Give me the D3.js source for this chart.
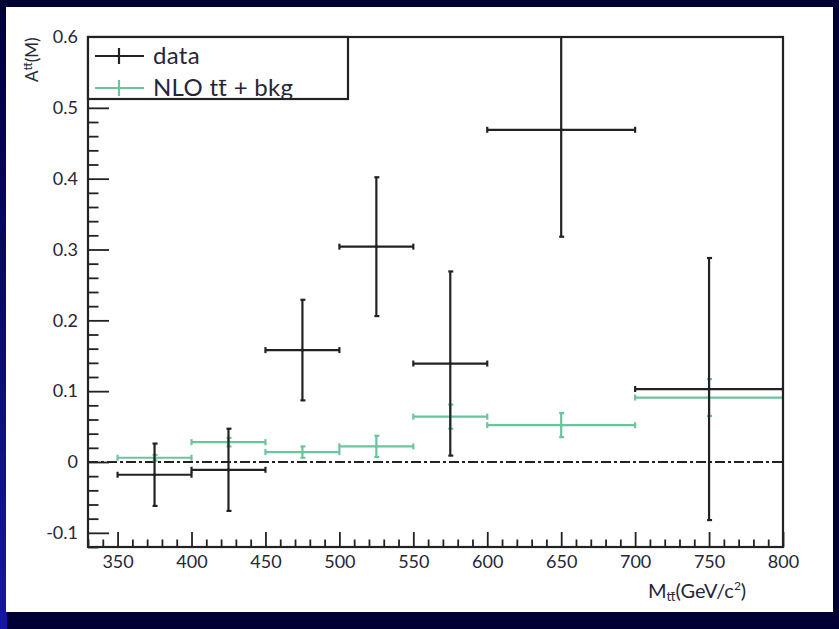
<!DOCTYPE html>
<html>
<head>
<meta charset="utf-8">
<script src="https://cdn.jsdelivr.net/npm/d3@7"></script>
<style>
  html, body { margin: 0; padding: 0; background: #000035; }
  svg { display: block; }
  text { font-family: Lato, "Open Sans", sans-serif; fill: #262636; }
</style>
</head>
<body>
<script>
// Bin edges in M_tt (GeV/c^2)
const binLow  = [350, 400, 450, 500, 550, 600, 700];
const binHigh = [400, 450, 500, 550, 600, 700, 800];

// Measured asymmetry per bin and its uncertainty
const dataValues = [-0.018, -0.011, 0.158, 0.304, 0.139, 0.469, 0.103];
const dataErrors = [0.044, 0.058, 0.071, 0.098, 0.130, 0.151, 0.185];

// NLO tt + background prediction and its uncertainty
const nloValues = [0.006, 0.028, 0.014, 0.022, 0.064, 0.052, 0.091];
const nloErrors = [0.004, 0.006, 0.008, 0.015, 0.017, 0.017, 0.026];

const xTicks = [350, 400, 450, 500, 550, 600, 650, 700, 750, 800];
const yTicks = [-0.1, 0, 0.1, 0.2, 0.3, 0.4, 0.5, 0.6];
const yTickLabels = ["-0.1", "0", "0.1", "0.2", "0.3", "0.4", "0.5", "0.6"];

const W = 839, H = 629;
const svg = d3.select("body").append("svg").attr("width", W).attr("height", H);

// Slide frame: navy border with a brighter left strip
const defs = svg.append("defs");
const grad = defs.append("linearGradient").attr("id", "leftStrip")
  .attr("x1", 0).attr("y1", 0).attr("x2", 0).attr("y2", 1);
grad.append("stop").attr("offset", "0%").attr("stop-color", "#000035");
grad.append("stop").attr("offset", "100%").attr("stop-color", "#1616a6");
svg.append("rect").attr("width", W).attr("height", H).attr("fill", "#000035");
svg.append("rect").attr("x", 0).attr("y", 0).attr("width", 7).attr("height", H).attr("fill", "url(#leftStrip)");
svg.append("rect").attr("x", 6).attr("y", 7).attr("width", 827).attr("height", 605).attr("fill", "#ffffff");

const x = d3.scaleLinear().domain([330, 800]).range([88, 783]);
const y = d3.scaleLinear().domain([-0.12, 0.6]).range([547, 37]);

defs.append("clipPath").attr("id", "plotClip").append("rect")
  .attr("x", x(330)).attr("y", y(0.6)).attr("width", x(800) - x(330)).attr("height", y(-0.12) - y(0.6));

const ink = "#222222";
const green = "#6cc39c";

// Axes: ticks point inward, as in the usual HEP style
const xAxisG = svg.append("g").attr("transform", `translate(0,${y(-0.12)})`);
xAxisG.call(d3.axisTop(x).tickValues(d3.range(330, 801, 10)).tickSize(7.5).tickFormat(""));
xAxisG.call(g => g.selectAll(".tick").filter(d => d % 50 === 0).select("line").attr("y2", -15));
xAxisG.selectAll("line").attr("stroke", ink).attr("stroke-width", 1.8);
xAxisG.select(".domain").remove();

const xLabels = svg.append("g").attr("transform", `translate(0,${y(-0.12)})`)
  .call(d3.axisBottom(x).tickValues(xTicks).tickSize(0).tickPadding(8).tickFormat(d3.format("d")));
xLabels.select(".domain").remove();
xLabels.selectAll("text").style("font-size", "18px").attr("fill", "#262636");

const yAxisG = svg.append("g").attr("transform", `translate(${x(330)},0)`);
const yMinor = d3.range(-12, 61, 2).map(v => v / 100);
yAxisG.call(d3.axisRight(y).tickValues(yMinor).tickSize(10.5).tickFormat(""));
yAxisG.call(g => g.selectAll(".tick").filter(d => Math.abs(Math.round(d * 100)) % 10 === 0).select("line").attr("x2", 21));
yAxisG.selectAll("line").attr("stroke", ink).attr("stroke-width", 1.8);
yAxisG.select(".domain").remove();

const yLabels = svg.append("g").attr("transform", `translate(${x(330)},0)`)
  .call(d3.axisLeft(y).tickValues(yTicks).tickSize(0).tickPadding(10).tickFormat((d, i) => yTickLabels[i]));
yLabels.select(".domain").remove();
yLabels.selectAll("text").style("font-size", "18px").attr("fill", "#262636");

// Zero reference line
svg.append("line")
  .attr("x1", x(330)).attr("x2", x(800)).attr("y1", y(0)).attr("y2", y(0))
  .attr("stroke", ink).attr("stroke-width", 1.8).attr("stroke-dasharray", "10,3,3,3");

// Error-bar crosses
function drawCrosses(values, errors, color, cls) {
  const g = svg.append("g").attr("class", cls).attr("clip-path", "url(#plotClip)")
    .attr("stroke", color).attr("stroke-width", 2.2).attr("fill", "none");
  const pts = values.map((v, i) => ({ lo: binLow[i], hi: binHigh[i], c: (binLow[i] + binHigh[i]) / 2, v, e: errors[i] }));
  const sel = g.selectAll("g").data(pts).join("g");
  sel.append("line")
    .attr("x1", d => x(d.lo)).attr("x2", d => x(d.hi))
    .attr("y1", d => y(d.v)).attr("y2", d => y(d.v));
  sel.append("line")
    .attr("x1", d => x(d.c)).attr("x2", d => x(d.c))
    .attr("y1", d => y(d.v + d.e)).attr("y2", d => y(d.v - d.e));
  // small end caps
  sel.append("line").attr("x1", d => x(d.lo)).attr("x2", d => x(d.lo))
    .attr("y1", d => y(d.v) - 3).attr("y2", d => y(d.v) + 3);
  sel.append("line").attr("x1", d => x(d.hi)).attr("x2", d => x(d.hi))
    .attr("y1", d => y(d.v) - 3).attr("y2", d => y(d.v) + 3);
  sel.append("line").attr("x1", d => x(d.c) - 2).attr("x2", d => x(d.c) + 3)
    .attr("y1", d => y(d.v + d.e)).attr("y2", d => y(d.v + d.e));
  sel.append("line").attr("x1", d => x(d.c) - 2).attr("x2", d => x(d.c) + 3)
    .attr("y1", d => y(d.v - d.e)).attr("y2", d => y(d.v - d.e));
  sel.append("circle").attr("cx", d => x(d.c)).attr("cy", d => y(d.v)).attr("r", 1.6)
    .attr("fill", color).attr("stroke", "none");
}
drawCrosses(nloValues, nloErrors, green, "nlo");
drawCrosses(dataValues, dataErrors, ink, "data");

// Frame
svg.append("rect")
  .attr("x", x(330)).attr("y", y(0.6)).attr("width", x(800) - x(330)).attr("height", y(-0.12) - y(0.6))
  .attr("fill", "none").attr("stroke", ink).attr("stroke-width", 2.2);

// Legend
const legend = svg.append("g");
legend.append("rect").attr("x", x(330)).attr("y", y(0.6)).attr("width", 260).attr("height", 62)
  .attr("fill", "#ffffff").attr("stroke", ink).attr("stroke-width", 2.2);
const legendItems = [
  { label: "data", color: ink, ly: 56 },
  { label: "NLO tt̄ + bkg", color: green, ly: 88 }
];
legendItems.forEach(it => {
  legend.append("line").attr("x1", 95).attr("x2", 144).attr("y1", it.ly).attr("y2", it.ly)
    .attr("stroke", it.color).attr("stroke-width", 2.2);
  legend.append("line").attr("x1", 119).attr("x2", 119).attr("y1", it.ly - 8).attr("y2", it.ly + 8)
    .attr("stroke", it.color).attr("stroke-width", 2.2);
  legend.append("text").attr("x", 153).attr("y", it.ly).attr("dy", "0.35em")
    .style("font-size", "24px").style("letter-spacing", "0.3px").text(it.label);
});

// Axis titles
const yTitle = svg.append("text")
  .attr("transform", `translate(38,82) rotate(-90)`)
  .style("font-size", "17px");
yTitle.append("tspan").text("A");
yTitle.append("tspan").attr("dy", -6).style("font-size", "12px").text("tt̄");
yTitle.append("tspan").attr("dy", 6).text("(M)");

const xTitle = svg.append("text").attr("x", 648).attr("y", 598).style("font-size", "20px");
xTitle.append("tspan").text("M");
xTitle.append("tspan").attr("dy", 3).style("font-size", "13px").text("tt̄");
xTitle.append("tspan").attr("dy", -3).text("(GeV/c");
xTitle.append("tspan").attr("dy", -8).style("font-size", "12px").text("2");
xTitle.append("tspan").attr("dy", 8).text(")");
</script>
</body>
</html>
